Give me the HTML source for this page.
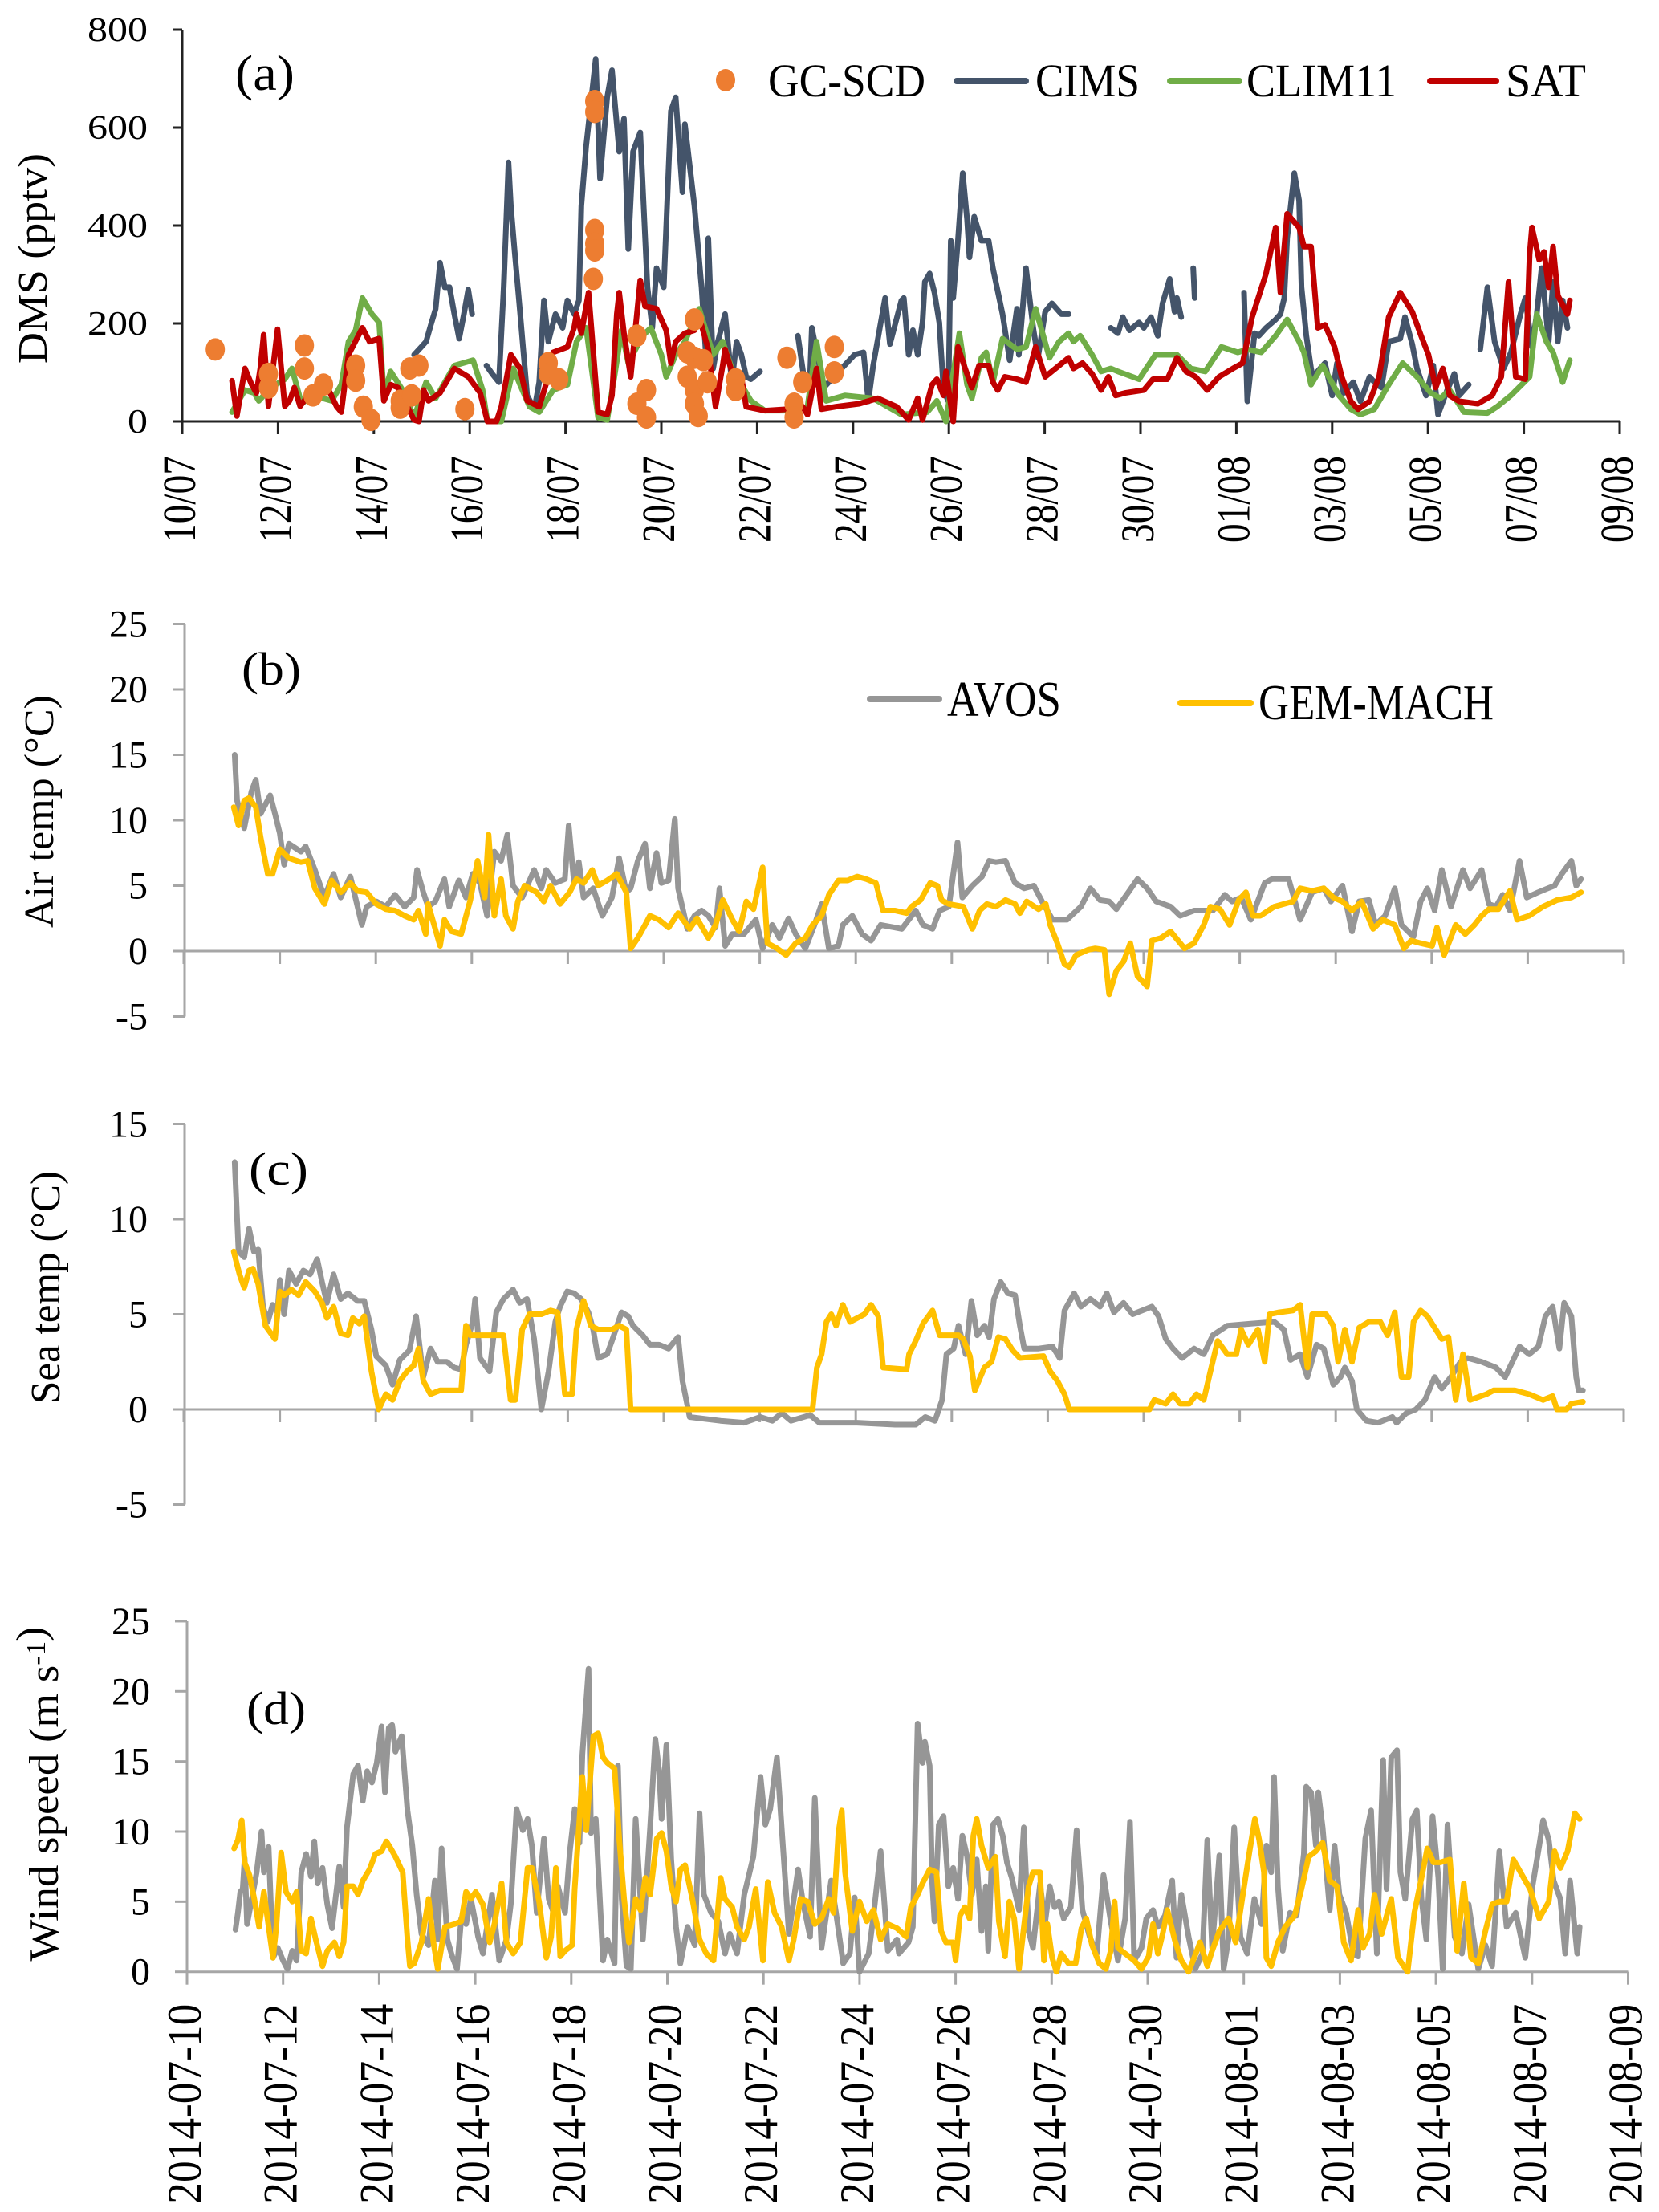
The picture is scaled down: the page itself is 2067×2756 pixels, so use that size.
<!DOCTYPE html>
<html>
<head>
<meta charset="utf-8">
<style>
html,body{margin:0;padding:0;background:#fff;}
svg{display:block;}
text{font-family:"Liberation Serif",serif;fill:#000;}
</style>
</head>
<body>
<svg id="fig" xmlns="http://www.w3.org/2000/svg" width="2067" height="2756" viewBox="0 0 2067 2756">
<rect x="0" y="0" width="2067" height="2756" fill="#fff"/>
<g id="pa"></g>
<g id="pb"></g>
<g id="pc"></g>
<g id="pd"></g>
</svg>
<script>
// ---------- Panel (a) DMS data (day = days since 10 July) ----------
const satDays=[1.04,1.14,1.31,1.45,1.55,1.63,1.70,1.80,1.99,2.14,2.24,2.34,2.46,2.63,2.73,2.98,3.22,3.32,3.47,3.76,3.91,4.11,4.21,4.35,4.50,4.84,4.94,5.04,5.14,5.38,5.68,5.97,6.22,6.37,6.56,6.66,6.86,7.05,7.20,7.45,7.59,7.74,8.04,8.18,8.23,8.33,8.48,8.68,8.87,8.97,9.07,9.12,9.22,9.36,9.56,9.66,9.90,10.10,10.2,10.3,10.49,10.69,10.79,10.98,11.13,11.28,11.33,11.47,11.67,11.77,12.16,12.65,12.95,13.05,13.24,13.34,13.64,14.13,14.52,14.91,15.16,15.35,15.45,15.65,15.75,15.89,15.94,16.09,16.19,16.34,16.48,16.63,16.83,16.92,17.02,17.17,17.42,17.61,17.81,18.01,18.3,18.5,18.6,18.79,18.99,19.18,19.33,19.48,19.68,20.07,20.26,20.56,20.76,20.95,21.15,21.39,21.64,21.93,22.13,22.33,22.62,22.82,22.92,23.06,23.31,23.41,23.56,23.7,23.85,24.05,24.2,24.39,24.54,24.78,24.98,25.18,25.42,25.67,25.86,26.01,26.16,26.31,26.45,26.65,27.04,27.34,27.53,27.68,27.83,28.03,28.12,28.17,28.32,28.42,28.52,28.61,28.71,28.91,28.96];
const satVals=[83,11,108,75,58,108,177,31,188,31,42,69,31,53,36,80,31,19,136,191,163,169,42,75,69,3,0,64,42,58,108,91,58,0,0,30,136,108,42,30,75,141,152,191,219,180,263,19,14,53,219,263,180,91,288,235,230,186,119,163,180,186,213,147,30,114,147,102,91,30,22,25,30,14,108,25,30,36,47,30,3,47,3,75,86,53,102,0,152,108,69,114,114,80,64,91,86,80,152,91,114,130,108,119,97,64,91,53,58,64,86,86,130,102,91,64,91,108,119,213,302,396,263,424,396,357,357,191,197,152,91,41,25,41,91,213,263,224,174,136,69,108,53,41,36,53,91,285,91,86,341,396,330,346,274,357,257,219,247];
const cimsDays=[4.84,4.99,5.09,5.19,5.29,5.38,5.48,5.58,5.68,5.78,5.88,5.97,6.05,null,6.35,6.47,6.61,6.71,6.81,6.86,6.94,7.05,7.2,7.35,7.45,7.55,7.64,7.79,7.94,8.04,8.18,8.28,8.33,8.43,8.63,8.72,8.87,8.97,9.12,9.22,9.31,9.41,9.56,9.71,9.81,9.9,10.05,10.2,10.3,10.44,10.49,10.69,10.84,10.93,10.98,11.08,11.18,11.33,11.47,11.57,11.67,11.77,11.87,12.06,null,12.85,12.99,13.1,13.14,13.39,14.03,14.22,14.32,14.42,14.67,14.77,15.01,15.06,15.16,15.25,15.35,15.45,15.5,15.6,15.7,15.8,15.89,15.99,16.04,16.09,16.19,16.29,16.38,16.43,16.53,16.68,16.83,16.92,17.12,17.27,17.42,17.46,17.61,17.76,17.86,18.01,18.15,18.35,18.5,null,19.38,19.53,19.63,19.77,19.97,20.07,20.22,20.36,20.46,20.61,20.71,20.76,20.85,null,21.1,21.13,null,22.16,22.23,22.38,22.47,22.62,22.82,22.92,23.0,23.06,23.21,23.31,23.36,23.46,23.56,23.6,23.75,23.85,24.0,24.1,24.24,24.44,24.59,24.78,24.93,25.03,25.18,25.42,25.52,25.67,25.77,25.96,26.11,26.21,26.4,26.55,26.65,26.85,null,27.09,27.24,27.39,27.48,27.58,27.73,27.93,28.03,28.17,28.27,28.37,28.52,28.61,28.71,28.81,28.91];
const cimsVals=[136,152,163,197,230,324,274,274,219,169,219,269,219,null,114,97,80,274,529,440,346,224,53,25,80,247,163,219,191,247,219,247,440,562,740,496,662,717,551,618,352,551,590,274,191,313,274,634,662,468,607,440,274,136,374,108,163,219,80,163,136,91,86,102,null,175,80,86,191,69,136,141,41,114,252,158,247,252,136,186,136,202,285,302,263,202,64,41,369,252,369,507,413,335,418,369,369,313,219,125,230,136,313,191,130,224,241,219,219,null,191,180,213,186,202,191,213,175,241,291,224,252,213,null,313,252,null,263,41,180,175,191,208,219,252,374,507,451,274,175,108,91,108,119,53,119,58,80,41,91,75,69,163,169,213,158,108,53,114,14,64,97,53,75,null,147,274,163,136,108,141,219,252,152,219,313,163,285,163,247,191];
const climDays=[1.04,1.31,1.5,1.6,1.85,2.14,2.29,2.49,2.73,3.12,3.32,3.47,3.62,3.76,3.96,4.11,4.21,4.35,4.6,4.84,5.09,5.29,5.68,6.07,6.27,6.37,6.66,6.91,7.05,7.25,7.45,7.74,8.04,8.23,8.43,8.68,8.87,9.02,9.17,9.31,9.61,9.78,10.0,10.1,10.3,10.49,10.79,11.08,11.28,11.47,11.67,11.87,12.16,12.65,13.05,13.24,13.44,13.83,14.42,15.01,15.55,15.75,15.94,16.22,16.38,16.48,16.68,16.78,16.92,17.12,17.42,17.61,17.81,18.1,18.3,18.5,18.6,18.74,18.99,19.18,19.38,19.53,19.97,20.31,20.76,21.05,21.35,21.69,22.03,22.23,22.52,22.82,23.06,23.31,23.41,23.56,23.8,24.14,24.39,24.59,24.88,25.18,25.47,25.77,26.06,26.26,26.45,26.75,27.24,27.44,27.73,28.12,28.27,28.47,28.61,28.81,28.96];
const climVals=[19,64,58,42,69,86,108,36,53,42,75,163,186,252,219,202,53,102,64,8,80,47,114,125,64,0,0,108,75,30,19,64,75,163,191,8,3,91,186,119,175,191,136,91,136,163,230,136,163,108,75,42,22,22,30,163,42,53,47,14,19,42,0,180,75,47,130,141,80,169,147,152,230,130,163,180,163,175,136,102,108,102,86,136,136,108,102,152,141,147,141,175,208,163,141,75,114,53,25,14,25,75,119,91,58,47,64,19,17,30,53,91,219,163,141,80,125];
const gcDays=[0.69,1.80,1.80,2.55,2.55,2.73,2.95,3.62,3.62,3.78,3.94,4.55,4.55,4.79,4.75,4.94,5.9,7.64,7.64,7.86,8.61,8.61,8.61,8.61,8.61,8.58,9.49,9.49,9.69,9.69,10.69,10.54,10.54,10.69,10.88,10.69,10.69,10.77,10.96,11.55,11.55,12.62,12.77,12.77,12.95,13.61,13.61];
const gcVals=[147,97,69,155,108,53,75,114,83,30,3,42,28,53,108,114,25,119,97,86,654,632,391,363,349,291,175,36,64,8,208,141,91,130,125,64,36,11,80,86,64,130,36,8,80,152,100];
const dateLabelsA=['10/07','12/07','14/07','16/07','18/07','20/07','22/07','24/07','26/07','28/07','30/07','01/08','03/08','05/08','07/08','09/08'];
const yTicksA=[0,200,400,600,800];

// ---------- Panel (b) air temperature ----------
const airAvosDays=[1.06,1.11,1.26,1.41,1.5,1.6,1.8,1.9,2.0,2.09,2.19,2.44,2.54,2.73,2.93,3.12,3.27,3.47,3.71,3.81,4.01,4.21,4.4,4.6,4.79,4.86,4.99,5.09,5.24,5.43,5.53,5.73,5.88,6.02,6.17,6.32,6.47,6.61,6.74,6.86,7.05,7.3,7.45,7.55,7.74,7.94,8.02,8.13,8.23,8.33,8.53,8.72,8.92,9.07,9.22,9.31,9.46,9.61,9.71,9.85,9.95,10.1,10.23,10.3,10.49,10.64,10.79,10.93,11.08,11.16,11.28,11.43,11.67,11.92,12.06,12.26,12.41,12.6,12.75,12.95,13.14,13.29,13.44,13.64,13.73,13.93,14.13,14.32,14.52,14.82,14.96,15.25,15.4,15.6,15.75,15.94,16.12,16.22,16.43,16.63,16.78,16.92,17.12,17.32,17.51,17.71,17.91,18.1,18.4,18.69,18.89,19.09,19.28,19.43,19.68,19.87,20.07,20.26,20.56,20.76,21.05,21.44,21.69,21.84,22.03,22.23,22.52,22.67,22.82,23.02,23.26,23.51,23.75,23.9,24.14,24.34,24.49,24.69,24.83,25.03,25.23,25.37,25.62,25.77,25.91,26.06,26.21,26.4,26.65,26.8,27.04,27.19,27.34,27.48,27.63,27.83,27.98,28.22,28.42,28.56,28.71,28.91,29.01,29.11];
const airAvosVals=[15.0,11.5,9.4,12.2,13.1,10.5,11.9,10.5,9.0,6.6,8.2,7.6,8.0,6.2,4.1,5.9,4.1,5.7,2.0,3.4,3.8,3.4,4.3,3.4,4.1,6.2,4.5,3.4,3.8,5.5,3.4,5.4,4.1,5.9,5.2,2.7,7.6,6.9,8.9,5.0,4.1,6.2,4.8,6.2,5.2,5.5,9.6,5.2,6.8,4.1,4.8,2.7,4.1,7.1,4.5,4.8,6.9,8.2,4.8,7.5,5.2,5.4,10.1,4.8,1.7,2.7,3.1,2.7,1.8,4.8,0.4,1.3,1.3,2.4,0.2,2.0,1.0,2.5,1.3,0.2,2.0,3.6,0.2,0.4,2.0,2.7,1.3,0.8,2.0,1.8,1.7,3.1,2.0,1.7,3.1,3.4,8.3,4.1,5.0,5.7,6.9,6.8,6.9,5.2,4.8,5.0,3.6,2.4,2.4,3.4,4.8,3.9,3.8,3.2,4.5,5.5,4.8,3.8,3.4,2.7,3.1,3.1,4.3,3.8,4.1,2.4,5.2,5.5,5.5,5.5,2.4,4.5,4.8,3.8,5.0,1.5,3.8,3.9,2.0,2.7,4.8,2.0,1.1,3.8,4.8,3.1,6.2,3.4,6.2,4.8,6.2,3.6,3.4,4.3,3.1,6.9,4.1,4.5,4.8,5.0,5.9,6.9,5.0,5.5];
const airGemDays=[1.04,1.14,1.26,1.36,1.5,1.6,1.75,1.85,2.0,2.19,2.44,2.58,2.73,2.93,3.08,3.27,3.47,3.62,3.81,4.01,4.21,4.4,4.6,4.79,4.89,5.04,5.09,5.34,5.43,5.58,5.78,5.97,6.12,6.27,6.35,6.47,6.61,6.71,6.86,6.96,7.1,7.35,7.5,7.64,7.84,8.04,8.18,8.33,8.51,8.63,8.82,9.02,9.22,9.31,9.46,9.61,9.71,9.9,10.1,10.3,10.54,10.69,10.93,11.08,11.23,11.43,11.57,11.72,11.87,12.06,12.16,12.36,12.55,12.75,12.95,13.1,13.29,13.44,13.64,13.83,14.03,14.22,14.42,14.57,14.82,15.06,15.16,15.35,15.55,15.7,15.79,15.94,16.24,16.43,16.58,16.73,16.92,17.12,17.32,17.42,17.56,17.81,17.96,18.05,18.2,18.35,18.45,18.59,18.84,18.99,19.18,19.28,19.43,19.58,19.72,19.87,20.07,20.17,20.36,20.56,20.85,21.05,21.25,21.39,21.59,21.79,21.98,22.13,22.28,22.43,22.72,23.11,23.26,23.51,23.75,23.95,24.14,24.34,24.54,24.78,24.98,25.23,25.42,25.57,25.77,26.01,26.11,26.26,26.5,26.7,26.89,27.04,27.19,27.39,27.63,27.78,28.03,28.32,28.61,28.91,29.11];
const airGemVals=[11.0,9.6,11.5,11.7,11.0,8.7,5.9,5.9,7.8,7.1,6.8,6.9,4.8,3.6,5.4,4.5,5.2,4.6,4.5,3.6,3.2,3.1,2.7,2.4,3.1,1.3,3.6,0.4,2.4,1.5,1.3,3.9,6.9,4.1,8.9,2.7,5.5,2.7,1.7,3.8,5.0,4.5,3.8,5.0,3.6,4.5,5.5,5.2,6.2,5.0,5.4,5.9,4.5,0.2,1.0,2.0,2.7,2.4,1.8,2.9,1.7,2.5,1.0,2.0,3.9,2.4,1.5,3.8,3.2,6.4,0.6,0.2,-0.3,0.6,1.0,2.0,2.7,4.3,5.4,5.4,5.7,5.5,5.2,3.1,3.1,2.9,3.4,3.9,5.2,5.0,3.9,3.6,3.4,1.7,3.1,3.6,3.4,3.9,3.6,2.9,3.8,3.2,3.6,2.0,0.6,-1.0,-1.2,-0.3,0.1,0.2,0.1,-3.3,-1.5,-0.8,0.6,-1.9,-2.7,0.8,1.0,1.5,0.2,0.6,2.0,3.4,3.2,2.0,3.9,4.5,2.7,2.7,3.4,3.8,4.8,4.6,4.8,4.1,3.8,3.1,3.8,1.7,2.4,2.0,0.2,0.8,0.6,0.4,1.8,-0.3,2.0,1.3,2.0,2.7,3.2,3.2,4.6,2.4,2.7,3.4,3.9,4.1,4.5];

// ---------- Panel (c) sea temperature ----------
const seaAvosDays=[1.06,1.14,1.26,1.36,1.46,1.55,1.65,1.75,1.85,1.95,2.0,2.09,2.19,2.34,2.49,2.63,2.78,2.88,2.98,3.12,3.27,3.42,3.62,3.76,3.91,4.01,4.21,4.35,4.5,4.7,4.84,4.99,5.14,5.29,5.48,5.63,5.78,5.88,6.02,6.07,6.17,6.37,6.51,6.66,6.86,7.0,7.15,7.3,7.45,7.6,7.74,7.84,7.99,8.13,8.28,8.43,8.53,8.63,8.82,8.92,9.12,9.26,9.36,9.56,9.71,9.9,10.1,10.3,10.39,10.54,11.18,11.67,12.01,12.26,12.46,12.65,13.05,13.24,14.03,14.82,15.25,15.45,15.65,15.8,15.89,16.04,16.14,16.29,16.41,16.53,16.68,16.78,16.88,17.02,17.17,17.32,17.42,17.51,17.81,18.1,18.25,18.35,18.55,18.69,18.89,19.09,19.23,19.38,19.58,19.77,19.97,20.17,20.31,20.46,20.61,20.8,21.05,21.25,21.44,21.74,22.23,22.72,22.92,23.06,23.26,23.41,23.6,23.75,23.95,24.1,24.19,24.34,24.44,24.64,24.88,25.18,25.27,25.47,25.67,25.86,26.06,26.21,26.4,26.6,26.75,27.04,27.34,27.53,27.68,27.83,28.03,28.22,28.37,28.52,28.66,28.76,28.91,29.01,29.06,29.15];
const seaAvosVals=[13.0,8.3,8.0,9.5,8.3,8.4,5.4,4.6,5.5,5.1,6.8,5.0,7.3,6.6,7.3,7.1,7.9,6.7,5.6,7.1,5.8,6.1,5.7,5.7,4.2,2.8,2.3,1.3,2.6,3.1,4.9,1.7,3.2,2.5,2.5,2.2,2.1,3.4,4.6,5.8,2.7,2.0,5.1,5.8,6.3,5.6,5.8,3.7,0,2.0,4.6,5.4,6.2,6.1,5.8,5.1,4.2,2.7,2.9,3.6,5.1,4.9,4.4,3.9,3.4,3.4,3.2,3.8,1.5,-0.4,-0.6,-0.7,-0.4,-0.6,-0.2,-0.6,-0.3,-0.7,-0.7,-0.8,-0.8,-0.4,-0.6,0.5,2.9,3.2,4.4,2.9,5.7,3.9,4.4,3.8,5.8,6.7,6.1,6.0,4.4,3.2,3.2,3.3,2.7,5.2,6.1,5.4,5.8,5.4,6.1,5.1,5.6,5.0,5.2,5.4,4.9,3.7,3.2,2.7,3.2,2.9,3.9,4.4,4.5,4.6,4.2,2.6,2.9,1.7,3.4,3.2,1.3,1.7,2.2,1.5,0,-0.6,-0.7,-0.4,-0.7,-0.2,0,0.5,1.7,1.1,1.7,2.5,2.7,2.5,2.2,1.7,2.5,3.3,2.9,3.3,4.9,5.4,3.2,5.6,4.9,1.7,1.0,1.0];
const seaGemDays=[1.04,1.16,1.26,1.36,1.44,1.55,1.7,1.9,2.0,2.09,2.24,2.39,2.54,2.73,2.88,2.98,3.12,3.27,3.42,3.52,3.66,3.76,3.91,4.06,4.21,4.35,4.5,4.65,4.79,4.89,4.99,5.14,5.34,5.78,5.88,5.97,6.66,6.81,6.91,7.05,7.2,7.45,7.64,7.79,7.94,8.09,8.18,8.33,8.48,8.63,8.92,9.07,9.22,9.31,13.1,13.19,13.29,13.39,13.49,13.59,13.73,13.88,14.18,14.32,14.47,14.57,15.06,15.11,15.25,15.4,15.6,15.75,16.14,16.24,16.38,16.48,16.68,16.83,16.97,17.12,17.27,17.42,17.91,18.05,18.2,18.35,18.45,20.12,20.22,20.46,20.61,20.76,20.95,21.1,21.25,21.39,21.54,21.74,21.93,22.03,22.18,22.38,22.52,22.62,22.82,23.11,23.26,23.41,23.51,23.8,23.95,24.05,24.19,24.34,24.49,24.69,24.93,25.08,25.23,25.37,25.52,25.62,25.77,25.91,26.06,26.21,26.35,26.5,26.65,26.8,27.14,27.29,27.73,28.03,28.32,28.52,28.61,28.81,28.91,29.15];
const seaGemVals=[8.3,7.1,6.4,7.3,7.4,6.6,4.4,3.7,6.2,6.0,6.3,6.0,6.7,6.2,5.6,4.8,5.4,4.0,3.9,4.8,4.5,4.9,2.0,0,0.8,0.5,1.5,2.0,2.3,3.2,1.5,0.8,1.0,1.0,4.4,3.9,3.9,0.5,0.5,4.2,5.0,5.0,5.2,5.1,0.8,0.8,4.2,5.7,4.4,4.2,4.2,4.4,4.2,0,0,2.2,2.9,4.6,5.0,4.4,5.5,4.6,5.0,5.5,4.9,2.2,2.1,2.9,3.6,4.5,5.2,3.9,3.9,3.7,2.8,1.0,2.2,2.5,3.8,3.7,3.1,2.7,2.8,2.0,1.5,0.8,0,0,0.5,0.3,0.8,0.3,0.3,0.8,0.5,2.0,3.6,2.9,2.9,4.2,3.4,4.2,2.5,5.0,5.1,5.2,5.5,2.2,5.0,5.0,4.4,2.5,4.2,2.5,4.3,4.6,4.6,3.9,5.1,1.7,1.7,4.6,5.2,4.9,4.3,3.7,3.8,0.5,2.9,0.5,0.8,1.0,1.0,0.8,0.5,0.7,0,0,0.3,0.4];

// ---------- Panel (d) wind speed ----------
const windAvosDays=[1.01,1.06,1.11,1.16,1.2,1.25,1.35,1.45,1.55,1.6,1.7,1.79,1.89,2.0,2.09,2.19,2.28,2.38,2.48,2.58,2.65,2.72,2.82,2.92,3.02,3.17,3.26,3.33,3.46,3.56,3.66,3.75,3.85,3.95,4.05,4.12,4.2,4.27,4.34,4.47,4.59,4.69,4.78,4.88,5.03,5.16,5.22,5.3,5.42,5.52,5.62,5.71,5.81,5.91,6.06,6.16,6.35,6.5,6.65,6.74,6.86,6.99,7.09,7.18,7.28,7.43,7.53,7.63,7.72,7.87,7.97,8.07,8.17,8.23,8.36,8.41,8.51,8.66,8.75,8.9,8.97,9.05,9.15,9.24,9.34,9.49,9.64,9.75,9.83,9.88,9.98,10.08,10.18,10.27,10.42,10.57,10.67,10.76,10.91,11.06,11.2,11.3,11.45,11.6,11.79,11.94,12.04,12.14,12.28,12.38,12.53,12.72,12.82,12.97,13.07,13.21,13.41,13.51,13.66,13.8,13.9,14.0,14.19,14.29,14.44,14.59,14.78,14.82,15.02,15.11,15.21,15.31,15.36,15.46,15.51,15.56,15.65,15.75,15.85,15.95,16.05,16.14,16.24,16.34,16.44,16.54,16.63,16.68,16.78,16.88,16.98,17.07,17.17,17.32,17.42,17.52,17.61,17.76,17.86,17.96,18.06,18.15,18.25,18.4,18.52,18.64,18.79,18.94,19.08,19.23,19.38,19.53,19.63,19.72,19.87,19.97,20.11,20.21,20.36,20.51,20.6,20.7,20.85,20.99,21.14,21.24,21.34,21.49,21.58,21.68,21.8,21.93,22.07,22.22,22.37,22.47,22.57,22.63,22.71,22.81,22.96,23.1,23.25,23.3,23.4,23.5,23.55,23.64,23.79,23.89,23.99,24.13,24.28,24.38,24.53,24.65,24.77,24.9,24.97,25.07,25.19,25.26,25.36,25.51,25.6,25.7,25.8,25.93,26.05,26.14,26.24,26.39,26.54,26.68,26.88,27.03,27.17,27.32,27.47,27.66,27.86,28.01,28.15,28.23,28.35,28.45,28.59,28.69,28.79,28.94,28.99];
const windAvosVals=[3.0,4.2,5.7,5.9,8.1,3.4,5.2,7.1,10.0,7.1,8.9,1.0,1.7,0.8,0.2,1.5,0.8,7.1,8.4,6.8,9.3,6.3,7.4,4.8,3.1,7.5,4.6,10.3,14.1,14.7,12.2,14.3,13.5,14.9,17.5,12.8,17.4,17.6,15.7,16.8,11.5,9.0,5.5,2.7,1.9,6.5,2.3,8.8,2.3,1.1,0.2,3.8,3.4,5.2,2.5,1.3,5.5,0.8,2.3,4.8,11.6,10.1,10.9,9.0,4.2,9.5,5.2,4.2,6.1,4.2,8.6,11.6,9.2,15.5,21.6,9.9,10.9,0.8,2.3,0.6,14.7,5.2,0.4,0.2,10.9,2.3,10.3,16.6,14.3,10.9,16.2,8.0,3.2,0.6,3.2,1.9,11.3,5.5,4.2,3.6,1.3,2.7,1.3,5.5,8.2,13.9,10.5,11.6,15.3,10.3,2.7,7.3,5.0,2.5,12.4,1.7,6.5,4.2,0.6,1.3,5.3,0,1.3,4.0,8.6,1.5,2.3,1.3,2.1,3.2,17.7,14.9,16.4,14.7,6.5,3.6,10.5,11.1,6.1,7.4,5.2,9.7,8.2,5.5,8.0,2.9,6.1,1.5,10.5,10.9,9.7,7.8,6.7,4.4,10.3,2.9,1.7,6.3,3.4,6.1,4.6,5.0,3.8,4.6,10.1,4.4,2.5,1.3,6.9,3.6,0.8,3.8,10.7,0.8,1.7,3.8,4.4,3.2,4.0,6.5,1.0,5.5,2.5,0.2,1.3,9.4,1.7,8.3,0.2,2.3,10.3,2.5,1.3,5.2,3.4,9.0,7.1,13.9,6.1,1.5,4.2,4.0,8.4,13.2,12.8,9.0,12.8,10.3,4.4,9.0,5.5,4.2,1.3,1.1,9.5,11.5,1.3,15.1,5.9,15.3,15.8,7.1,5.2,10.9,11.5,5.2,2.3,11.1,6.7,0.2,10.5,2.5,1.3,4.8,0.2,1.9,0.4,8.6,3.2,4.2,1.0,6.1,9.0,10.8,9.4,6.5,5.2,1.3,6.5,1.3,3.2];
const windGemDays=[0.98,1.06,1.14,1.2,1.3,1.4,1.5,1.6,1.7,1.79,1.86,1.96,2.06,2.19,2.28,2.38,2.48,2.58,2.68,2.82,2.92,3.07,3.17,3.26,3.33,3.46,3.56,3.66,3.8,3.92,4.05,4.15,4.24,4.34,4.49,4.59,4.64,4.73,4.88,5.03,5.13,5.22,5.37,5.57,5.71,5.81,5.91,6.01,6.16,6.3,6.4,6.55,6.65,6.79,6.94,7.09,7.18,7.33,7.48,7.58,7.68,7.77,7.87,8.02,8.07,8.17,8.23,8.31,8.46,8.56,8.66,8.75,8.9,9.0,9.1,9.2,9.34,9.44,9.54,9.64,9.73,9.78,9.88,9.98,10.08,10.18,10.27,10.37,10.52,10.67,10.81,10.96,11.11,11.2,11.35,11.45,11.6,11.7,11.84,11.99,12.09,12.23,12.38,12.53,12.63,12.77,12.92,13.07,13.21,13.36,13.46,13.56,13.63,13.7,13.85,14.0,14.15,14.29,14.44,14.59,14.78,14.97,15.07,15.21,15.31,15.46,15.6,15.7,15.8,15.95,16.0,16.09,16.19,16.29,16.37,16.44,16.54,16.68,16.83,16.9,17.03,17.12,17.22,17.32,17.52,17.61,17.76,17.84,17.91,18.01,18.1,18.2,18.35,18.5,18.62,18.72,18.84,18.99,19.13,19.23,19.31,19.38,19.53,19.72,19.87,20.02,20.11,20.21,20.31,20.41,20.56,20.7,20.85,21.0,21.09,21.24,21.34,21.49,21.68,21.83,21.98,22.12,22.23,22.32,22.42,22.47,22.57,22.71,22.86,23.06,23.2,23.35,23.5,23.64,23.79,23.94,24.08,24.23,24.38,24.48,24.62,24.72,24.87,25.07,25.21,25.41,25.55,25.7,25.82,25.95,26.09,26.29,26.44,26.58,26.73,26.88,27.03,27.17,27.32,27.47,27.61,27.76,27.96,28.15,28.35,28.47,28.59,28.74,28.89,28.99];
const windGemVals=[8.8,9.4,10.8,7.8,6.9,5.2,3.2,5.7,3.2,1.0,3.2,8.5,5.7,5.0,5.7,1.5,1.3,3.8,2.3,0.4,1.5,2.1,1.1,2.1,6.1,6.1,5.5,6.5,7.3,8.4,8.6,9.3,8.8,8.2,7.1,2.3,0.4,0.6,2.1,5.2,2.1,0.2,3.2,3.4,3.6,5.7,5.2,5.7,4.8,2.1,3.4,6.3,2.1,1.3,2.1,7.4,7.4,5.0,1.0,2.5,7.4,1.1,1.5,1.9,5.9,10.9,13.9,10.1,16.8,17.0,15.3,14.9,14.5,9.4,5.2,2.1,5.2,4.4,6.7,5.5,8.0,9.5,9.9,8.6,6.1,5.0,7.3,7.6,5.2,2.3,1.3,0.8,6.7,5.2,4.6,3.2,2.3,3.2,5.9,0.8,6.4,4.2,3.2,0.8,2.3,5.2,5.0,3.4,3.8,5.2,4.2,9.9,11.5,7.1,2.9,5.0,3.6,4.4,2.3,3.4,3.1,2.5,4.6,5.5,6.3,7.3,7.1,2.9,2.1,2.1,0.8,4.0,4.6,3.8,9.7,10.9,9.0,7.4,8.2,3.6,1.1,5.0,3.8,0.2,6.1,7.1,7.1,0.8,3.4,1.0,0,1.3,0.6,0.6,3.1,3.8,1.9,0.6,0.2,1.5,5.0,1.7,1.3,0.8,0.2,1.1,3.4,1.3,2.7,4.4,2.3,0.8,0,1.3,2.1,0.4,1.5,2.9,3.8,2.1,5.5,8.6,10.9,9.4,7.1,1.0,0.4,2.1,3.2,4.0,5.9,8.2,8.6,9.2,6.5,6.1,2.1,0.8,4.4,1.7,2.7,5.5,2.7,5.2,1.0,0,4.2,6.7,8.8,7.8,7.8,8.0,1.5,6.3,1.0,0.6,2.9,4.8,5.0,5.0,8.0,7.1,5.9,3.8,5.0,8.6,7.4,8.6,11.3,10.9];
const dateLabelsD=['2014-07-10','2014-07-12','2014-07-14','2014-07-16','2014-07-18','2014-07-20','2014-07-22','2014-07-24','2014-07-26','2014-07-28','2014-07-30','2014-08-01','2014-08-03','2014-08-05','2014-08-07','2014-08-09'];
const yTicksB=[-5,0,5,10,15,20,25];
const yTicksC=[-5,0,5,10,15];
const yTicksD=[0,5,10,15,20,25];

const NS='http://www.w3.org/2000/svg';
function mk(parent,tag,attrs,txt){const e=document.createElementNS(NS,tag);for(const k in attrs)e.setAttribute(k,attrs[k]);if(txt!==undefined)e.textContent=txt;parent.appendChild(e);return e;}

function xA(d){return 227+59.7*d;}
function xB(d){return 229+59.8*d;}
function xD(d){return 233+59.85*d;}
function yA(v){return 525-v*0.61;}
function yB(v){return 1185-v*16.3;}
function yC(v){return 1756-v*23.7;}
function yD(v){return 2456.7-v*17.47;}

function pathFrom(days,vals,fx,fy){
  let s='',pen=false;
  for(let i=0;i<days.length;i++){
    if(days[i]===null||vals[i]===null){pen=false;continue;}
    s+=(pen?'L':'M')+fx(days[i]).toFixed(1)+','+fy(vals[i]).toFixed(1);
    pen=true;
  }
  return s;
}
function drawLine(g,days,vals,fx,fy,color,name){
  const p=mk(g,'path',{d:pathFrom(days,vals,fx,fy),fill:'none',stroke:color,'stroke-width':7,'stroke-linejoin':'round','stroke-linecap':'round'});
  
  
  return p;
}

// ---------- Panel a ----------
const ga=document.getElementById('pa');
{
  const ax=mk(ga,'g',{});
  
  
  mk(ax,'line',{x1:227,y1:yA(800),x2:227,y2:yA(0),stroke:'#222','stroke-width':3});
  mk(ax,'line',{x1:227,y1:yA(0),x2:xA(30),y2:yA(0),stroke:'#222','stroke-width':3});
  yTicksA.forEach(v=>{
    mk(ax,'line',{x1:215,y1:yA(v),x2:227,y2:yA(v),stroke:'#222','stroke-width':3});
    const t=mk(ax,'text',{x:184,y:yA(v)+14,'text-anchor':'end','font-size':42,textLength:String(v).length*25,lengthAdjust:'spacingAndGlyphs'},String(v));
    
    
  });
  dateLabelsA.forEach((lab,i)=>{
    const x=xA(i*2);
    mk(ax,'line',{x1:x,y1:yA(0),x2:x,y2:yA(0)+16,stroke:'#222','stroke-width':3});
    const t=mk(ax,'text',{transform:`translate(${x+16},568) rotate(-90)`,'text-anchor':'end','font-size':58,textLength:108,lengthAdjust:'spacingAndGlyphs'},lab);
    
    
  });
  const yt=mk(ga,'text',{transform:'translate(58,322) rotate(-90)','text-anchor':'middle','font-size':52,textLength:262,lengthAdjust:'spacingAndGlyphs'},'DMS (pptv)');
  
  
  const pl=mk(ga,'text',{x:293,y:112,'font-size':62,textLength:74,lengthAdjust:'spacingAndGlyphs'},'(a)');
  
  

  drawLine(ga,cimsDays,cimsVals,xA,yA,'#44546A','series-cims');
  drawLine(ga,climDays,climVals,xA,yA,'#70AD47','series-clim11');
  drawLine(ga,satDays,satVals,xA,yA,'#C00000','series-sat');
  const dg=mk(ga,'g',{});
  
  
  gcDays.forEach((d,i)=>{
    const c=mk(dg,'ellipse',{cx:xA(d),cy:yA(gcVals[i]),rx:12,ry:14,fill:'#ED7D31'});
    
    
  });
  const lg=mk(ga,'g',{});
  
  
  mk(lg,'ellipse',{cx:904,cy:100,rx:12,ry:14,fill:'#ED7D31'});
  mk(lg,'text',{x:957,y:120,'font-size':58,textLength:196,lengthAdjust:'spacingAndGlyphs'},'GC-SCD');
  mk(lg,'line',{x1:1192,y1:101,x2:1278,y2:101,stroke:'#44546A','stroke-width':8,'stroke-linecap':'round'});
  mk(lg,'text',{x:1290,y:120,'font-size':58,textLength:130,lengthAdjust:'spacingAndGlyphs'},'CIMS');
  mk(lg,'line',{x1:1458,y1:101,x2:1544,y2:101,stroke:'#70AD47','stroke-width':8,'stroke-linecap':'round'});
  mk(lg,'text',{x:1553,y:120,'font-size':58,textLength:187,lengthAdjust:'spacingAndGlyphs'},'CLIM11');
  mk(lg,'line',{x1:1782,y1:101,x2:1864,y2:101,stroke:'#C00000','stroke-width':8,'stroke-linecap':'round'});
  mk(lg,'text',{x:1876,y:120,'font-size':58,textLength:100,lengthAdjust:'spacingAndGlyphs'},'SAT');
}

function metPanel(g,fy,ticks,title,titleX,titleY,titleLen,label,labelX,labelY,fx,x0,lastTick,labels){
  const ax=mk(g,'g',{});
  
  
  const top=fy(ticks[ticks.length-1]),bot=fy(ticks[0]);
  mk(ax,'line',{x1:x0,y1:top,x2:x0,y2:bot,stroke:'#A6A6A6','stroke-width':3});
  mk(ax,'line',{x1:x0,y1:fy(0),x2:fx(30),y2:fy(0),stroke:'#A6A6A6','stroke-width':3});
  ticks.forEach(v=>{
    mk(ax,'line',{x1:x0-15,y1:fy(v),x2:x0,y2:fy(v),stroke:'#A6A6A6','stroke-width':3});
    const t=mk(ax,'text',{x:x0-46,y:fy(v)+16,'text-anchor':'end','font-size':48},String(v));
    
    
  });
  for(let i=0;i<=15;i++){
    const x=fx(i*2);
    mk(ax,'line',{x1:x,y1:fy(0),x2:x,y2:fy(0)+16,stroke:'#A6A6A6','stroke-width':3});
    if(labels){
      const t=mk(ax,'text',{transform:`translate(${x+17},${fy(0)+40}) rotate(-90)`,'text-anchor':'end','font-size':60,textLength:249,lengthAdjust:'spacingAndGlyphs'},labels[i]);
      
      
    }
  }
  const yt=mk(g,'text',{transform:`translate(${titleX},${titleY}) rotate(-90)`,'text-anchor':'middle','font-size':52,textLength:titleLen,lengthAdjust:'spacingAndGlyphs'});
  
  
  title.forEach(part=>{mk(yt,'tspan',part.sup?{dy:-16,'font-size':34}:{},part.t);});
  const pl=mk(g,'text',{x:labelX,y:labelY,'font-size':58,textLength:74,lengthAdjust:'spacingAndGlyphs'},label);
  
  
}

const gb=document.getElementById('pb');
metPanel(gb,yB,yTicksB,[{t:'Air temp (°C)'}],66,1011,290,'(b)',301,853,xB,230,30,null);
drawLine(gb,airAvosDays,airAvosVals,xB,yB,'#969696','series-avos-air');
drawLine(gb,airGemDays,airGemVals,xB,yB,'#FFC000','series-gem-mach-air');
{
  const lg=mk(gb,'g',{});
  
  
  mk(lg,'line',{x1:1084,y1:871,x2:1170,y2:871,stroke:'#969696','stroke-width':8,'stroke-linecap':'round'});
  mk(lg,'text',{x:1180,y:892,'font-size':62,textLength:142,lengthAdjust:'spacingAndGlyphs'},'AVOS');
  mk(lg,'line',{x1:1471,y1:876,x2:1558,y2:876,stroke:'#FFC000','stroke-width':8,'stroke-linecap':'round'});
  mk(lg,'text',{x:1568,y:896,'font-size':62,textLength:293,lengthAdjust:'spacingAndGlyphs'},'GEM-MACH');
}

const gc=document.getElementById('pc');
metPanel(gc,yC,yTicksC,[{t:'Sea temp (°C)'}],74,1604,290,'(c)',310,1476,xB,230,30,null);
drawLine(gc,seaAvosDays,seaAvosVals,xB,yC,'#969696','series-avos-sea');
drawLine(gc,seaGemDays,seaGemVals,xB,yC,'#FFC000','series-gem-mach-sea');

const gd=document.getElementById('pd');
metPanel(gd,yD,yTicksD,[{t:'Wind speed (m s'},{t:'-1',sup:true},{t:')'}],72,2235,417,'(d)',307,2148,xD,233,30,dateLabelsD);
drawLine(gd,windAvosDays,windAvosVals,xD,yD,'#969696','series-avos-wind');
drawLine(gd,windGemDays,windGemVals,xD,yD,'#FFC000','series-gem-mach-wind');
</script>
</body>
</html>
